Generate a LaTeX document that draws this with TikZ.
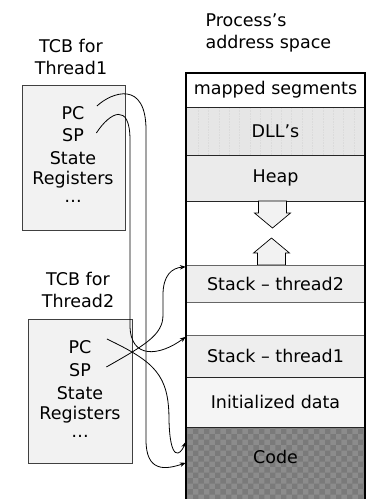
\documentclass[tikz,border=0pt]{standalone}
\usepackage{fontspec}
\setmainfont{DejaVu Sans}
\usetikzlibrary{calc,positioning,arrows.meta,patterns}
\definecolor{tcbfill}{HTML}{F2F2F2}
\definecolor{dllfill}{HTML}{E6E6E6}
\definecolor{heapfill}{HTML}{EBEBEB}
\definecolor{stackfill}{HTML}{EEEEEE}
\definecolor{datafill}{HTML}{F5F5F5}
\definecolor{codefill}{HTML}{8C8C8C}
\definecolor{codedark}{HTML}{7A7A7A}
\tikzset{
	seg/.style={draw=black!85, minimum width=179pt, inner sep=0pt},
	tcb/.style={draw=black!75, fill=tcbfill, minimum width=103pt, minimum height=145pt},
	wire/.style={line width=0.8pt, -{Stealth[length=6pt,width=4.5pt]}},
	stripes/.style={path picture={
		\foreach \k in {0,...,16}
			\draw[black!14, densely dotted, line width=0.6pt]
				([xshift=\k*10.4pt+12pt]path picture bounding box.south west) --
				([xshift=\k*10.4pt+12pt]path picture bounding box.north west);
	}},
	grow/.pic={
		\draw[pic actions] (-14,0) -- (14,0) -- (14,12) -- (18,12) -- (0,27) -- (-18,12) -- (-14,12) -- cycle;
	}
}

\begin{document}
\begin{tikzpicture}[x=1pt, y=-1pt, font=\fontsize{17.5}{22}\selectfont]
	\useasboundingbox (0,0) rectangle (366,499);

	% address space column
	\node[anchor=west, align=left] (aspace) at (202,33) {Process’s\\address space};

	\node[seg, fill=white, minimum height=34pt] (mapped) at (275.5,90) {mapped segments};
	\node[seg, fill=dllfill, stripes, minimum height=48pt] (dll) at (275.5,131) {DLL’s};
	\node[seg, fill=heapfill, minimum height=46pt] (heap) at (275.5,178) {Heap};

	\pic[draw=black, fill=tcbfill, line width=0.7pt] (down) at (272.5,201) {grow};
	\pic[draw=black, fill=tcbfill, line width=0.7pt, yscale=-1] (up) at (271.5,265) {grow};

	\node[seg, draw=black!60, fill=stackfill, minimum height=37pt] (stk2) at (275.5,283.5) {Stack – thread2};
	\node[seg, draw=black!60, fill=stackfill, minimum height=42pt] (stk1) at (275.5,356) {Stack – thread1};
	\node[seg, fill=datafill, minimum height=50pt] (init) at (275.5,402) {Initialized data};

	\fill[codefill] (186,427) rectangle (365,505);
	\fill[pattern=checkerboard, pattern color=codedark] (186,427) rectangle (365,505);
	\node[seg, draw=none, minimum height=60pt] (code) at (275.5,457) {Code};
	\draw[black!85] (init.south west) -- (init.south east);

	\draw[line width=1.8pt] (186,73) rectangle (365,510);

	% thread control blocks
	\node[align=center] (lbl1) at (71,57) {TCB for\\Thread1};
	\node[tcb] (tcb1) at (73.5,157.5) {};
	\node (t1pc) at (73,113) {PC};
	\node (t1sp) at (73,135) {SP};
	\node (t1st) at (73,158) {State};
	\node (t1reg) at (73,180) {Registers};
	\node (t1more) at (73,201) {\dots};

	\node[align=center] (lbl2) at (78,290) {TCB for\\Thread2};
	\node[tcb, minimum width=104pt, minimum height=144pt] (tcb2) at (80,391) {};
	\node (t2pc) at (80,347) {PC};
	\node (t2sp) at (80,370) {SP};
	\node (t2st) at (80,393) {State};
	\node (t2reg) at (80,415) {Registers};
	\node (t2more) at (80,436) {\dots};

	% PC / SP pointers
	\draw[wire] ($(t1pc.east)+(9,-7)$) .. controls (112,92) and (146,80) .. (146,130)
		-- (146,440) .. controls (146,472) and (165,470) .. ($(code.north west)+(0,36)$);
	\draw[wire] ($(t1sp.east)+(9,-2)$) .. controls (110,112) and (130,102) .. (130,140)
		-- (130,325) .. controls (130,360) and (160,356) .. ($(stk1.north west)+(0,2)$);
	\draw[wire] ($(t2pc.east)+(12,-8)$) .. controls (155,362) and (169,375) .. (169,420)
		.. controls (170,462) and (180,456) .. ($(code.north west)+(0,15)$);
	\draw[wire] ($(t2sp.east)+(12,-3)$) .. controls (145,345) and (163,335) .. (163,315)
		-- (163,295) .. controls (163,275) and (172,268) .. ($(stk2.north west)+(0,2)$);
\end{tikzpicture}
\end{document}
